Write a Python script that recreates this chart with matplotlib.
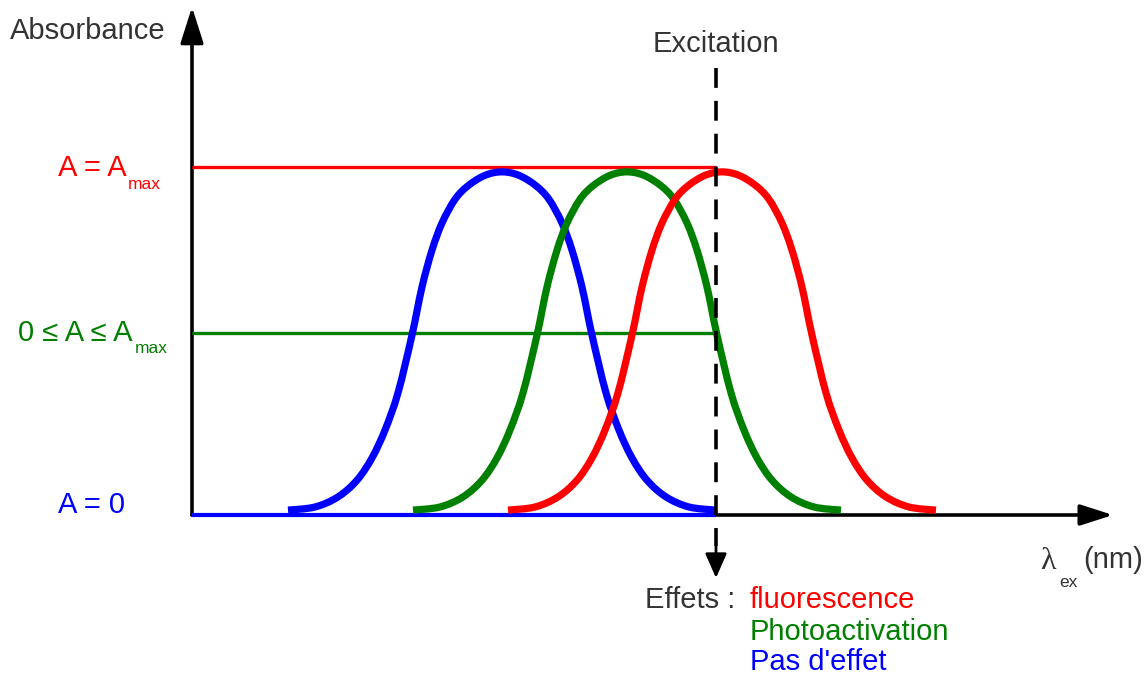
import matplotlib
matplotlib.use("Agg")
import matplotlib.pyplot as plt
from matplotlib.path import Path
from matplotlib.patches import PathPatch
import numpy as np

plt.rcParams["font.family"] = ["Liberation Sans", "DejaVu Sans"]

# --- data -----------------------------------------------------------------
# Absorption band profile (half band, offset from the peak -> absorbance / Amax)
profile_offset = [-214, -187, -164, -145, -130, -117, -104, -90, -80, -70, -60, -47, -34, -17, 0]
profile_abs = [0.014, 0.023, 0.052, 0.10, 0.164, 0.244, 0.351, 0.517, 0.655,
               0.761, 0.839, 0.907, 0.946, 0.976, 0.986]

# Peak position of each species on the wavelength axis (arbitrary units)
band_names = ["Pas d'effet", "Photoactivation", "fluorescence"]
band_peaks = [502, 627, 722]
band_colors = ["#0000ff", "#008000", "#ff0000"]

# Absorbance levels read at the excitation wavelength
level_values = [1.0, 0.523, 0.0]
level_colors = ["#ff0000", "#008000", "#0000ff"]

excitation = 716
axis_start, axis_end = 192, 1113
TEXT = "#333333"

# --- figure ---------------------------------------------------------------
W, H = 1147, 676
fig = plt.figure(figsize=(W / 100, H / 100), dpi=100)
ax = fig.add_axes([0, 0, 1, 1])
ax.set_xlim(0, W)
y_zero, y_one = 515, 167          # pixel rows of A = 0 and A = Amax
scale = y_zero - y_one
ax.set_ylim((y_zero - H) / scale, y_zero / scale)
ax.axis("off")


def a_of(row):
    """absorbance value sitting on a given pixel row"""
    return (y_zero - row) / scale


def fig_xy(x, y):
    return x / W, 1 - y / H


def smooth_path(xs, ys):
    """Cubic Bezier path passing through every (x, y) point (Catmull-Rom)."""
    p = np.column_stack([xs, ys])
    ext = np.vstack([p[0], p, p[-1]])
    verts = [p[0]]
    codes = [Path.MOVETO]
    for i in range(len(p) - 1):
        p0, p1, p2, p3 = ext[i], ext[i + 1], ext[i + 2], ext[i + 3]
        verts += [p1 + (p2 - p0) / 6, p2 - (p3 - p1) / 6, p2]
        codes += [Path.CURVE4] * 3
    return Path(verts, codes)


# axes with arrow heads
ax.annotate("", xy=(axis_start, a_of(7)), xytext=(axis_start, 0),
            arrowprops=dict(arrowstyle="-|>,head_length=1.1,head_width=0.35",
                            mutation_scale=20, lw=2.6, color="black",
                            shrinkA=0, shrinkB=0), zorder=2)
ax.annotate("", xy=(axis_end, 0), xytext=(axis_start, 0),
            arrowprops=dict(arrowstyle="-|>,head_length=1.0,head_width=0.32",
                            mutation_scale=20, lw=2.6, color="black",
                            shrinkA=0, shrinkB=0), zorder=2)

# absorbance levels at the excitation wavelength
level_widths = [2.4, 2.4, 3.0]
for val, col, lw in zip(level_values, level_colors, level_widths):
    ax.plot([axis_start, excitation], [val, val], color=col, lw=lw,
            solid_capstyle="butt", zorder=3)

# absorption bands
off = np.array(profile_offset, dtype=float)
ab = np.array(profile_abs, dtype=float)
for peak, col in zip(band_peaks, band_colors):
    xs = np.concatenate([peak + off, peak - off[::-1][1:]])
    ys = np.concatenate([ab, ab[::-1][1:]])
    ax.add_patch(PathPatch(smooth_path(xs, ys), fill=False, edgecolor=col,
                           lw=5.2, capstyle="butt", joinstyle="round",
                           zorder=4))

# excitation wavelength
ax.plot([excitation, excitation], [a_of(68), a_of(546)], color="black", lw=2.6,
        linestyle=(0, (5.5, 3.6)), zorder=6)
ax.annotate("", xy=(excitation, a_of(578)), xytext=(excitation, a_of(546)),
            arrowprops=dict(arrowstyle="-|>,head_length=0.75,head_width=0.33",
                            mutation_scale=20, lw=2.0, color="black",
                            shrinkA=0, shrinkB=0), zorder=6)

# --- text -----------------------------------------------------------------
big, small = 21, 12.5


def put(x, y, s, color=TEXT, size=big, ha="left", **kw):
    fig.text(*fig_xy(x, y), s, color=color, fontsize=size, ha=ha,
             va="baseline", **kw)


put(10, 39, "Absorbance")
put(excitation, 52, "Excitation", ha="center")

put(58, 176, "A = A", color=level_colors[0])
put(128, 189, "max", color=level_colors[0], size=small)
put(18, 341, "0 \u2264 A \u2264 A", color=level_colors[1])
put(135, 353, "max", color=level_colors[1], size=small)
put(58, 513, "A = 0", color=level_colors[2])

put(1040, 569, "\u03bb", size=23, family=["Liberation Serif", "DejaVu Serif"])
put(1059, 587, "ex", size=small)
put(1083, 568, "(nm)")

put(645, 608, "Effets :")
effect_rows = [608, 640, 670]
for name, col, row in zip(band_names[::-1], band_colors[::-1], effect_rows):
    put(750, row, name, color=col)

fig.savefig("out.png", dpi=100)
